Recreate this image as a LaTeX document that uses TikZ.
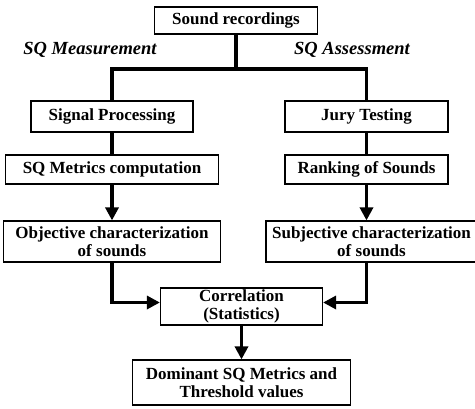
\documentclass[tikz,border=0pt]{standalone}
\usepackage{fontspec}
\setmainfont{Liberation Serif}
\usetikzlibrary{arrows.meta}
\begin{document}
\begin{tikzpicture}[x=1pt,y=-1pt,
        box/.style={draw,line width=1.2pt,inner sep=0pt,align=center,font=\bfseries\fontsize{17}{18}\selectfont},
        branch/.style={font=\bfseries\itshape\fontsize{18.5}{19}\selectfont},
        link/.style={line width=3.2pt},
        arrowlink/.style={line width=3.2pt,-{Triangle[width=13pt,length=13pt]}}]
    \useasboundingbox (0,0) rectangle (475,408);
    \node [box,minimum width=163pt,minimum height=27pt] (rec) at (236,20.5) {Sound recordings};
    \node [branch] (meas) at (90,50) {SQ Measurement};
    \node [branch] (assess) at (352,50) {SQ Assessment};
    \node [box,minimum width=162pt,minimum height=31pt] (sig) at (112,116.5) {Signal Processing};
    \node [box,minimum width=163pt,minimum height=31pt] (jury) at (366.5,116.5) {Jury Testing};
    \node [box,minimum width=213pt,minimum height=29pt] (met) at (112,169.5) {SQ Metrics computation};
    \node [box,minimum width=163pt,minimum height=29pt] (rank) at (366.5,169.5) {Ranking of Sounds};
    \node [box,minimum width=217pt,minimum height=41pt] (obj) at (112,241.5) {Objective characterization\\of sounds};
    \node [box,minimum width=211pt,minimum height=41pt] (subj) at (371.5,241.5) {Subjective characterization\\of sounds};
    \node [box,minimum width=162pt,minimum height=37pt] (corr) at (241.5,306.5) {Correlation\\(Statistics)};
    \node [box,minimum width=218pt,minimum height=45pt] (dom) at (241.5,382.5) {Dominant SQ Metrics and\\Threshold values};
    \coordinate (fork) at (236,69);
    % split into the two branches
    \draw [link] (rec.south) -- (fork);
    \draw [link] (sig.north) |- (fork) -| (jury.north);
    \draw [link] (sig) -- (met);
    \draw [link] (jury) -- (rank);
    \draw [arrowlink] (met) -- (obj);
    \draw [arrowlink] (rank) -- (rank |- subj.north);
    % both characterizations meet in the correlation
    \draw [arrowlink] (obj.south) |- ([yshift=4pt]corr.west);
    \draw [arrowlink] (subj.south -| rank) |- ([yshift=4pt]corr.east);
    \draw [arrowlink] (corr) -- (dom);
\end{tikzpicture}
\end{document}
